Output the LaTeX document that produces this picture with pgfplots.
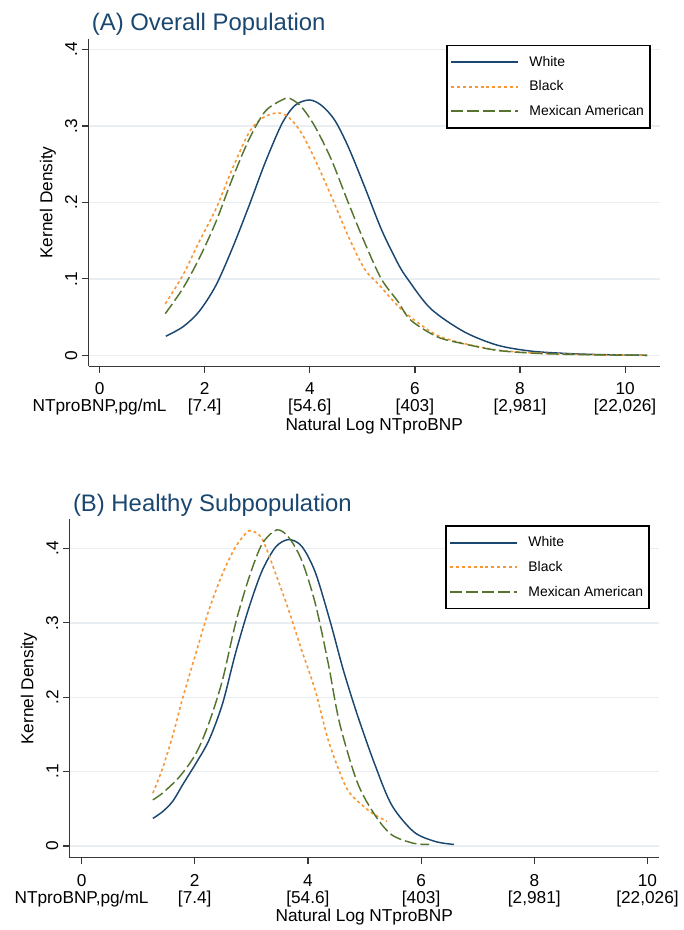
\documentclass[border=0pt]{standalone}
\usepackage{fontspec}
\setmainfont{Liberation Sans}
\usepackage{pgfplots}
\pgfplotsset{compat=1.18}

\definecolor{stnavy}{RGB}{26,71,111}
\definecolor{storange}{RGB}{250,150,50}
\definecolor{stgreen}{RGB}{85,117,47}
\definecolor{stgrid}{RGB}{232,238,242}
\definecolor{staxis}{RGB}{55,55,55}

\pgfplotsset{
  kdens/.style={
    scale only axis,
    axis x line*=bottom, axis y line*=left,
    axis line style={-, staxis, line width=0.9pt},
    tick align=outside, major tick length=5pt,
    tick style={staxis, line width=0.9pt},
    xtick={0,2,4,6,8,10},
    xticklabels={{0\\NTproBNP,pg/mL},{2\\{}[7.4]},{4\\{}[54.6]},{6\\{}[403]},{8\\{}[2,981]},{10\\{}[22,026]}},
    xticklabel style={align=center, font=\fontsize{13}{12.75}\selectfont, yshift=-4pt},
    ytick={0,0.1,0.2,0.3,0.4},
    yticklabels={0,.1,.2,.3,.4},
    yticklabel style={rotate=90, anchor=south, font=\fontsize{13}{14}\selectfont},
    ymajorgrids, grid style={stgrid, line width=1pt},
    xlabel={Natural Log NTproBNP},
    xlabel style={font=\fontsize{13}{14}\selectfont, yshift=5pt},
    ylabel={Kernel Density},
    ylabel style={font=\fontsize{13}{14}\selectfont},
    title style={at={(0,1)}, anchor=south west, font=\fontsize{18}{20}\selectfont,
      text=stnavy, xshift=-1pt, yshift=-7pt},
    legend cell align=left,
    legend style={at={(1,1)}, anchor=north east, xshift=-7pt, yshift=-4.5pt,
      draw=black, line width=0.8pt, font=\fontsize{10.5}{12}\selectfont,
      inner xsep=2.5pt, inner ysep=6pt, row sep=5.5pt,
      /tikz/every odd column/.append style={column sep=6pt}},
    legend image code/.code={\draw[#1, line width=1.6pt] (0pt,0pt) -- (50pt,0pt);},
    sWhite/.style={stnavy, line width=1.1pt, smooth},
    sBlack/.style={storange, line width=1.2pt, dash pattern=on 2.2pt off 2.2pt, smooth},
    sMex/.style={stgreen, line width=1.1pt, dash pattern=on 9pt off 3pt, smooth},
  }
}

\begin{document}
\begin{tikzpicture}
\path (0,0) rectangle (512.25pt,697.5pt);

% (A) overall population
\begin{axis}[kdens,
  at={(66.75pt,421.5pt)}, anchor=south west,
  width=430.5pt, height=246.75pt,
  xmin=-0.21, xmax=10.66, ymin=-0.0143, ymax=0.414,
  title={(A) Overall Population}]
\addplot[sWhite] coordinates {
(1.26,0.025) (1.58,0.037) (1.89,0.057) (2.21,0.091) (2.52,0.139) (2.84,0.195)
(3.15,0.252) (3.47,0.303) (3.72,0.327) (3.99,0.334) (4.22,0.327) (4.47,0.308)
(4.73,0.273) (5.04,0.221) (5.36,0.165) (5.67,0.121) (5.86,0.100) (6.30,0.061)
(6.93,0.031) (7.56,0.0134) (8.19,0.0056) (8.82,0.0026) (9.45,0.001) (10.42,0.0)};
\addplot[sBlack] coordinates {
(1.25,0.0675) (1.58,0.104) (1.89,0.148) (2.21,0.191) (2.52,0.243) (2.84,0.291)
(3.09,0.310) (3.37,0.317) (3.59,0.312) (3.84,0.291) (4.10,0.256) (4.41,0.208)
(4.73,0.156) (5.04,0.113) (5.32,0.092) (5.67,0.065) (5.99,0.046) (6.43,0.026)
(6.93,0.0155) (7.56,0.0069) (8.19,0.0034) (8.82,0.0017) (9.45,0.0008) (10.42,0.0)};
\addplot[sMex] coordinates {
(1.25,0.0545) (1.58,0.087) (1.89,0.126) (2.21,0.174) (2.52,0.230) (2.84,0.282)
(3.15,0.319) (3.47,0.334) (3.62,0.336) (3.84,0.325) (4.10,0.299) (4.41,0.256)
(4.73,0.200) (5.04,0.148) (5.36,0.100) (5.67,0.071) (5.92,0.046) (6.43,0.024)
(6.93,0.015) (7.56,0.0065) (8.19,0.003) (8.82,0.0014) (9.45,0.0006) (10.42,0.0)};
\legend{White, Black, Mexican American}
\end{axis}

% (B) healthy subpopulation
\begin{axis}[kdens,
  at={(52.5pt,51pt)}, anchor=south west,
  width=444pt, height=255pt,
  xmin=-0.21, xmax=10.2, ymin=-0.016, ymax=0.439,
  title={(B) Healthy Subpopulation}]
\addplot[sWhite] coordinates {
(1.26,0.037) (1.43,0.046) (1.61,0.060) (1.80,0.084) (2.02,0.111) (2.25,0.142)
(2.49,0.191) (2.72,0.259) (2.96,0.321) (3.19,0.370) (3.43,0.402) (3.66,0.412)
(3.89,0.403) (4.13,0.368) (4.40,0.300) (4.62,0.238) (4.87,0.177) (5.18,0.110)
(5.48,0.055) (5.87,0.019) (6.25,0.006) (6.58,0.002)};
\addplot[sBlack] coordinates {
(1.26,0.071) (1.43,0.104) (1.61,0.148) (1.78,0.197) (2.02,0.259) (2.25,0.317)
(2.49,0.366) (2.72,0.402) (2.90,0.420) (3.00,0.424) (3.19,0.413) (3.43,0.366)
(3.66,0.317) (3.89,0.263) (4.13,0.209) (4.36,0.142) (4.60,0.092) (4.75,0.070)
(5.10,0.046) (5.40,0.033)};
\addplot[sMex] coordinates {
(1.26,0.062) (1.43,0.071) (1.73,0.093) (2.02,0.124) (2.25,0.165) (2.49,0.223)
(2.72,0.299) (2.96,0.361) (3.19,0.406) (3.45,0.425) (3.66,0.415) (3.89,0.384)
(4.13,0.326) (4.36,0.245) (4.56,0.165) (4.87,0.086) (5.18,0.042) (5.48,0.015)
(5.87,0.0035) (6.14,0.002)};
\legend{White, Black, Mexican American}
\end{axis}
\end{tikzpicture}
\end{document}
